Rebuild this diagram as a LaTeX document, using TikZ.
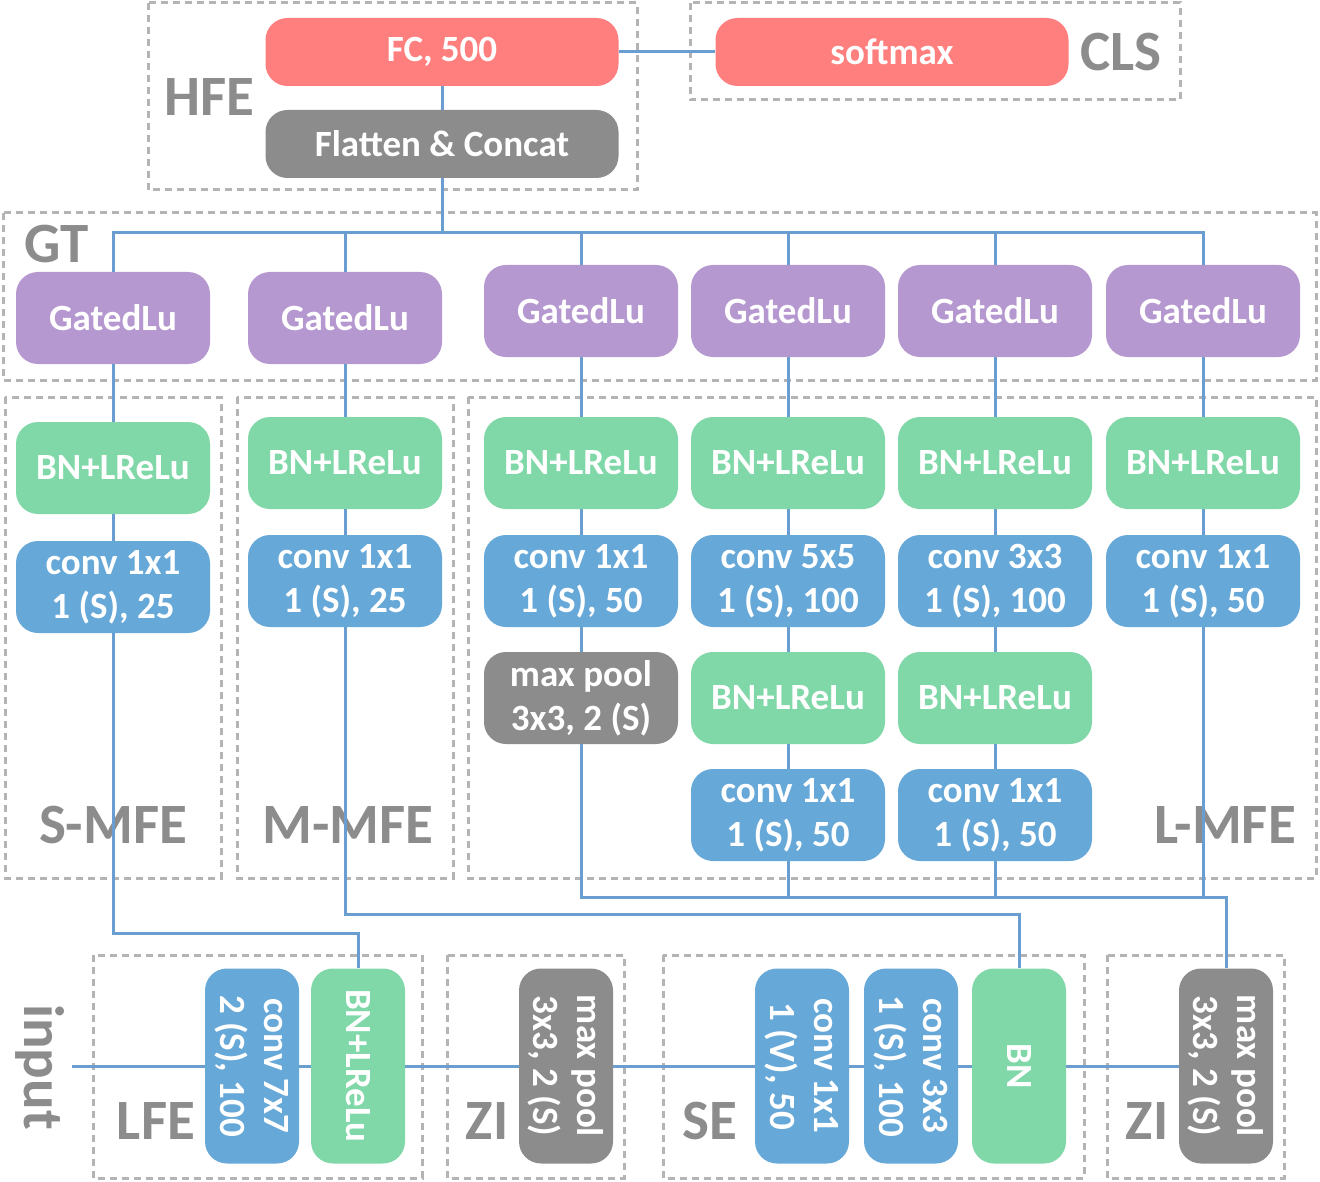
\documentclass[tikz,border=0pt]{standalone}
\usepackage{fontspec}
\setmainfont{Carlito}
\definecolor{cred}{HTML}{FF7F7F}
\definecolor{cgray}{HTML}{8C8C8C}
\definecolor{cpurple}{HTML}{B698D0}
\definecolor{cgreen}{HTML}{80D8A8}
\definecolor{cblue}{HTML}{66A8D8}
\definecolor{cline}{HTML}{6A9ED0}
\definecolor{cdash}{HTML}{B4B4B4}
\definecolor{clabel}{HTML}{8C8C8C}
\begin{document}
\begin{tikzpicture}[x=1pt,y=-1pt,
  box/.style={rounded corners=22pt, minimum width=194pt, minimum height=92pt, inner sep=0pt,
    text=white, align=center, font=\fontsize{37}{44}\selectfont\bfseries},
  vbox/.style={box, minimum width=195pt, minimum height=94pt, rotate=-90},
  wide/.style={minimum width=353pt, minimum height=68pt},
  redf/.style={fill=cred}, grayf/.style={fill=cgray}, purf/.style={fill=cpurple},
  greenf/.style={fill=cgreen}, bluef/.style={fill=cblue},
  group/.style={draw=cdash, line width=3pt, dash pattern=on 7pt off 5pt},
  lbl/.style={text=clabel, font=\fontsize{57}{60}\selectfont\bfseries, inner sep=0pt},
  conn/.style={draw=cline, line width=3pt}]
\useasboundingbox (0,0) rectangle (1320,1182);
\fill[white] (0,0) rectangle (1320,1182);

% groups
\draw[group] (148,3) rectangle (637,190);
\draw[group] (690,3) rectangle (1180,100);
\draw[group] (3,213) rectangle (1316,380);
\draw[group] (5,397) rectangle (221,878);
\draw[group] (237,397) rectangle (453,878);
\draw[group] (468,397) rectangle (1316,878);
\draw[group] (93,955) rectangle (422,1178);
\draw[group] (447,955) rectangle (624,1178);
\draw[group] (663,955) rectangle (1084,1178);
\draw[group] (1107,955) rectangle (1284,1178);

% labels
\node[lbl] (lhfe) at (209,97) {HFE};
\node[lbl] (lcls) at (1121,52) {CLS};
\node[lbl] (lgt) at (57,244) {GT};
\node[lbl] (lsmfe) at (113,825) {S-MFE};
\node[lbl] (lmmfe) at (348,825) {M-MFE};
\node[lbl] (llmfe) at (1225,825) {L-MFE};
\node[lbl] (llfe) at (156,1121) {LFE};
\node[lbl] (lzi1) at (487,1121) {ZI};
\node[lbl] (lse) at (710,1121) {SE};
\node[lbl] (lzi2) at (1147,1121) {ZI};
\node[lbl, rotate=-90] (inp) at (40,1067) {input};
\coordinate (in0) at (72,1066);

% top
\node[box,wide,redf] (fc) at (442,52) {FC, 500};
\node[box,wide,grayf] (flat) at (442,144) {Flatten \& Concat};
\node[box,wide,redf] (sm) at (892,52) {softmax};

% GatedLu
\node[box,purf] (g1) at (113,318) {GatedLu};
\node[box,purf] (g2) at (345,318) {GatedLu};
\node[box,purf] (g3) at (581,311) {GatedLu};
\node[box,purf] (g4) at (788,311) {GatedLu};
\node[box,purf] (g5) at (995,311) {GatedLu};
\node[box,purf] (g6) at (1203,311) {GatedLu};

% BN rows
\node[box,greenf] (b1) at (113,468) {BN+LReLu};
\node[box,greenf] (b2) at (345,463) {BN+LReLu};
\node[box,greenf] (b3) at (581,463) {BN+LReLu};
\node[box,greenf] (b4) at (788,463) {BN+LReLu};
\node[box,greenf] (b5) at (995,463) {BN+LReLu};
\node[box,greenf] (b6) at (1203,463) {BN+LReLu};

% conv rows
\node[box,bluef] (c1) at (113,587) {conv 1x1\\1 (S), 25};
\node[box,bluef] (c2) at (345,581) {conv 1x1\\1 (S), 25};
\node[box,bluef] (c3) at (581,581) {conv 1x1\\1 (S), 50};
\node[box,bluef] (c4) at (788,581) {conv 5x5\\1 (S), 100};
\node[box,bluef] (c5) at (995,581) {conv 3x3\\1 (S), 100};
\node[box,bluef] (c6) at (1203,581) {conv 1x1\\1 (S), 50};

\node[box,grayf] (mp) at (581,698) {max pool\\3x3, 2 (S)};
\node[box,greenf] (b4b) at (788,698) {BN+LReLu};
\node[box,greenf] (b5b) at (995,698) {BN+LReLu};
\node[box,bluef] (c4b) at (788,815) {conv 1x1\\1 (S), 50};
\node[box,bluef] (c5b) at (995,815) {conv 1x1\\1 (S), 50};

% bottom row
\node[vbox,bluef] (c7) at (252,1066) {conv 7x7\\2 (S), 100};
\node[vbox,greenf] (bl) at (358,1066) {BN+LReLu};
\node[vbox,grayf] (z1) at (566,1066) {max pool\\3x3, 2 (S)};
\node[vbox,bluef] (s1) at (802,1066) {conv 1x1\\1 (V), 50};
\node[vbox,bluef] (s2) at (911,1066) {conv 3x3\\1 (S), 100};
\node[vbox,greenf] (sb) at (1019,1066) {BN};
\node[vbox,grayf] (z2) at (1226,1066) {max pool\\3x3, 2 (S)};

% connectors
\coordinate (bus) at (0,233);
\coordinate (sbus) at (0,933);
\coordinate (mbus) at (0,914);
\coordinate (lbus) at (0,897);
\draw[conn] (fc) -- (flat);
\draw[conn] (fc.east) -- (sm.west);
\draw[conn] (flat.south) -- (flat.south |- bus);
\draw[conn] (g1.north) -- (g1.north |- bus) -- (g6.north |- bus) -- (g6.north);
\foreach \g in {g2,g3,g4,g5} \draw[conn] (\g.north) -- (\g.north |- bus);
\foreach \a/\b in {g1/b1,b1/c1,g2/b2,b2/c2,g3/b3,b3/c3,c3/mp,g4/b4,b4/c4,c4/b4b,b4b/c4b,g5/b5,b5/c5,c5/b5b,b5b/c5b,g6/b6,b6/c6}
  \draw[conn] (\a.south) -- (\b.north);
\draw[conn] (c1.south) -- (c1.south |- sbus) -- (bl.west |- sbus) -- (bl.west);
\draw[conn] (c2.south) -- (c2.south |- mbus) -- (sb.west |- mbus) -- (sb.west);
\draw[conn] (mp.south) -- (mp.south |- lbus) -- (z2.west |- lbus) -- (z2.west);
\foreach \c in {c4b,c5b,c6} \draw[conn] (\c.south) -- (\c.south |- lbus);
\draw[conn] (in0) -- (c7.south);
\foreach \a/\b in {c7/bl,bl/z1,z1/s1,s1/s2,s2/sb,sb/z2}
  \draw[conn] (\a.north) -- (\b.south);
\end{tikzpicture}
\end{document}
